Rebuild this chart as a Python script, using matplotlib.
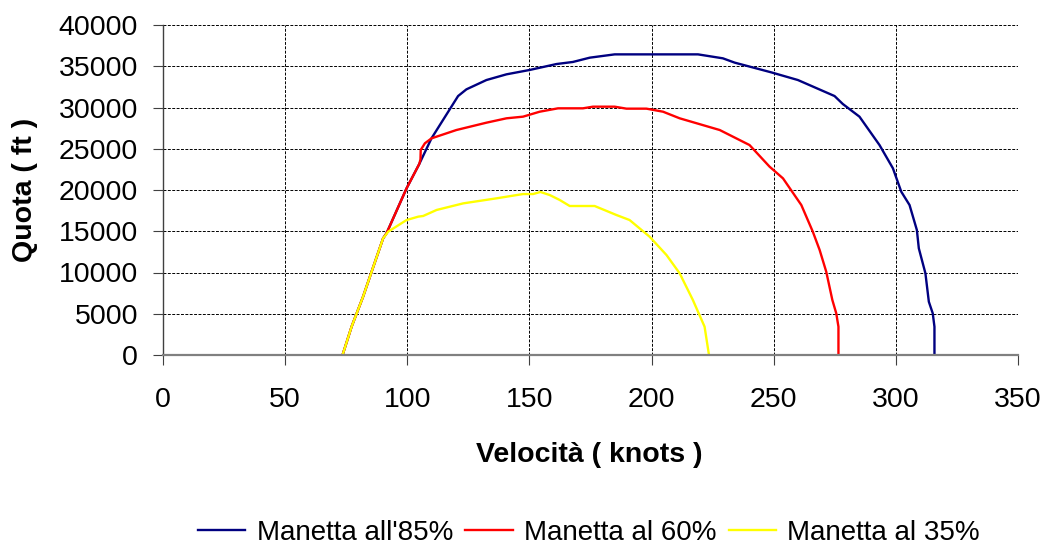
import matplotlib
matplotlib.use("Agg")
import matplotlib.pyplot as plt

plt.rcParams['font.family'] = ['Liberation Sans', 'DejaVu Sans']

# Velocità (knots) / Quota (ft) per ciascuna posizione della manetta
v_85 = [73.5, 77.2, 81.9, 85.4, 90.1, 91.5, 99.7, 104.9, 109.9, 120.8, 124.2,
        132.4, 140.6, 150.1, 161.1, 167.8, 174.7, 184.9, 219.0, 229.2, 234.0,
        249.0, 259.9, 274.9, 278.3, 285.1, 293.3, 298.8, 302.2, 305.6, 308.6,
        309.4, 312.1, 313.5, 315.1, 315.8, 315.8]
h_85 = [0, 3430, 7070, 10100, 14140, 14750, 20200, 23150, 26260, 31390, 32200,
        33330, 34020, 34550, 35270, 35520, 36040, 36440, 36440, 35960, 35440,
        34260, 33330, 31390, 30420, 28890, 25450, 22630, 19800, 18180, 15150,
        12930, 9900, 6460, 5050, 3430, 0]

v_60 = [73.5, 77.2, 81.9, 85.4, 90.1, 91.5, 99.7, 104.9, 105.4, 105.5, 107.2,
        109.9, 120.1, 132.4, 140.6, 147.4, 154.2, 161.7, 171.9, 176.0, 184.9,
        189.7, 197.9, 204.7, 211.5, 227.9, 240.1, 248.3, 253.8, 261.3, 266.0,
        268.8, 271.5, 274.0, 275.6, 276.5, 276.5]
h_60 = [0, 3430, 7070, 10100, 14140, 14750, 20200, 23150, 23720, 24850, 25660,
        26260, 27270, 28160, 28690, 28890, 29490, 29900, 29900, 30100, 30100,
        29860, 29860, 29490, 28690, 27270, 25450, 22830, 21410, 18180, 14950,
        12730, 10100, 6670, 5050, 3430, 0]

v_35 = [73.5, 77.2, 81.9, 85.4, 90.1, 92.2, 99.7, 104.5, 106.5, 112.0, 122.9,
        136.5, 147.4, 151.5, 154.5, 158.3, 162.4, 166.5, 176.7, 185.6, 191.0,
        199.2, 206.1, 211.5, 216.9, 221.7, 223.5]
h_35 = [0, 3430, 7070, 10100, 14140, 14950, 16360, 16770, 16850, 17580, 18380,
        18990, 19510, 19510, 19760, 19390, 18790, 18060, 18060, 16970, 16360,
        14340, 12120, 9900, 6670, 3430, 0]

labels = ["Manetta all'85%", "Manetta al 60%", "Manetta al 35%"]
colors = ["#000080", "#FF0000", "#FFFF00"]

x_ticks = [0, 50, 100, 150, 200, 250, 300, 350]
y_ticks = [0, 5000, 10000, 15000, 20000, 25000, 30000, 35000, 40000]

FS = 20.5

fig = plt.figure(figsize=(10.45, 5.45), dpi=100)
ax = fig.add_axes([163 / 1045, 1 - 355 / 545, 855 / 1045, 330 / 545])

for v, h, lab, col in zip([v_85, v_60, v_35], [h_85, h_60, h_35], labels, colors):
    ax.plot(v, h, color=col, lw=1.7, label=lab, solid_joinstyle='round')

ax.set_xlim(0, 350)
ax.set_ylim(0, 40000)
ax.set_xticks(x_ticks)
ax.set_yticks(y_ticks)
ax.grid(True, color='black', linestyle=(0, (3, 1.5)), linewidth=0.7)
ax.set_axisbelow(True)

for s in ['top', 'right']:
    ax.spines[s].set_visible(False)
ax.spines['left'].set_color('#404040')
ax.spines['left'].set_linewidth(1.0)
ax.spines['bottom'].set_color('#808080')
ax.spines['bottom'].set_linewidth(1.6)

ax.tick_params(axis='x', direction='out', length=7, width=0.8, color='#404040',
               labelsize=FS, pad=16)
ax.tick_params(axis='y', direction='out', length=7, width=0.8, color='#404040',
               labelsize=FS, pad=11)

ax.set_xlabel('Velocità ( knots )', fontsize=FS, fontweight='bold', va='center')
ax.xaxis.set_label_coords(0.498, (355 - 455) / 330)
ax.set_ylabel('Quota ( ft )', fontsize=FS, fontweight='bold', va='center')
ax.yaxis.set_label_coords((25 - 163) / 855, 0.5)

fig.legend(loc='center', bbox_to_anchor=(589 / 1045, 1 - 533 / 545), ncol=3,
           frameon=False, fontsize=20, handlelength=1.7, handletextpad=0.4,
           columnspacing=0.45, borderaxespad=0)

fig.savefig('out.png', dpi=100)
